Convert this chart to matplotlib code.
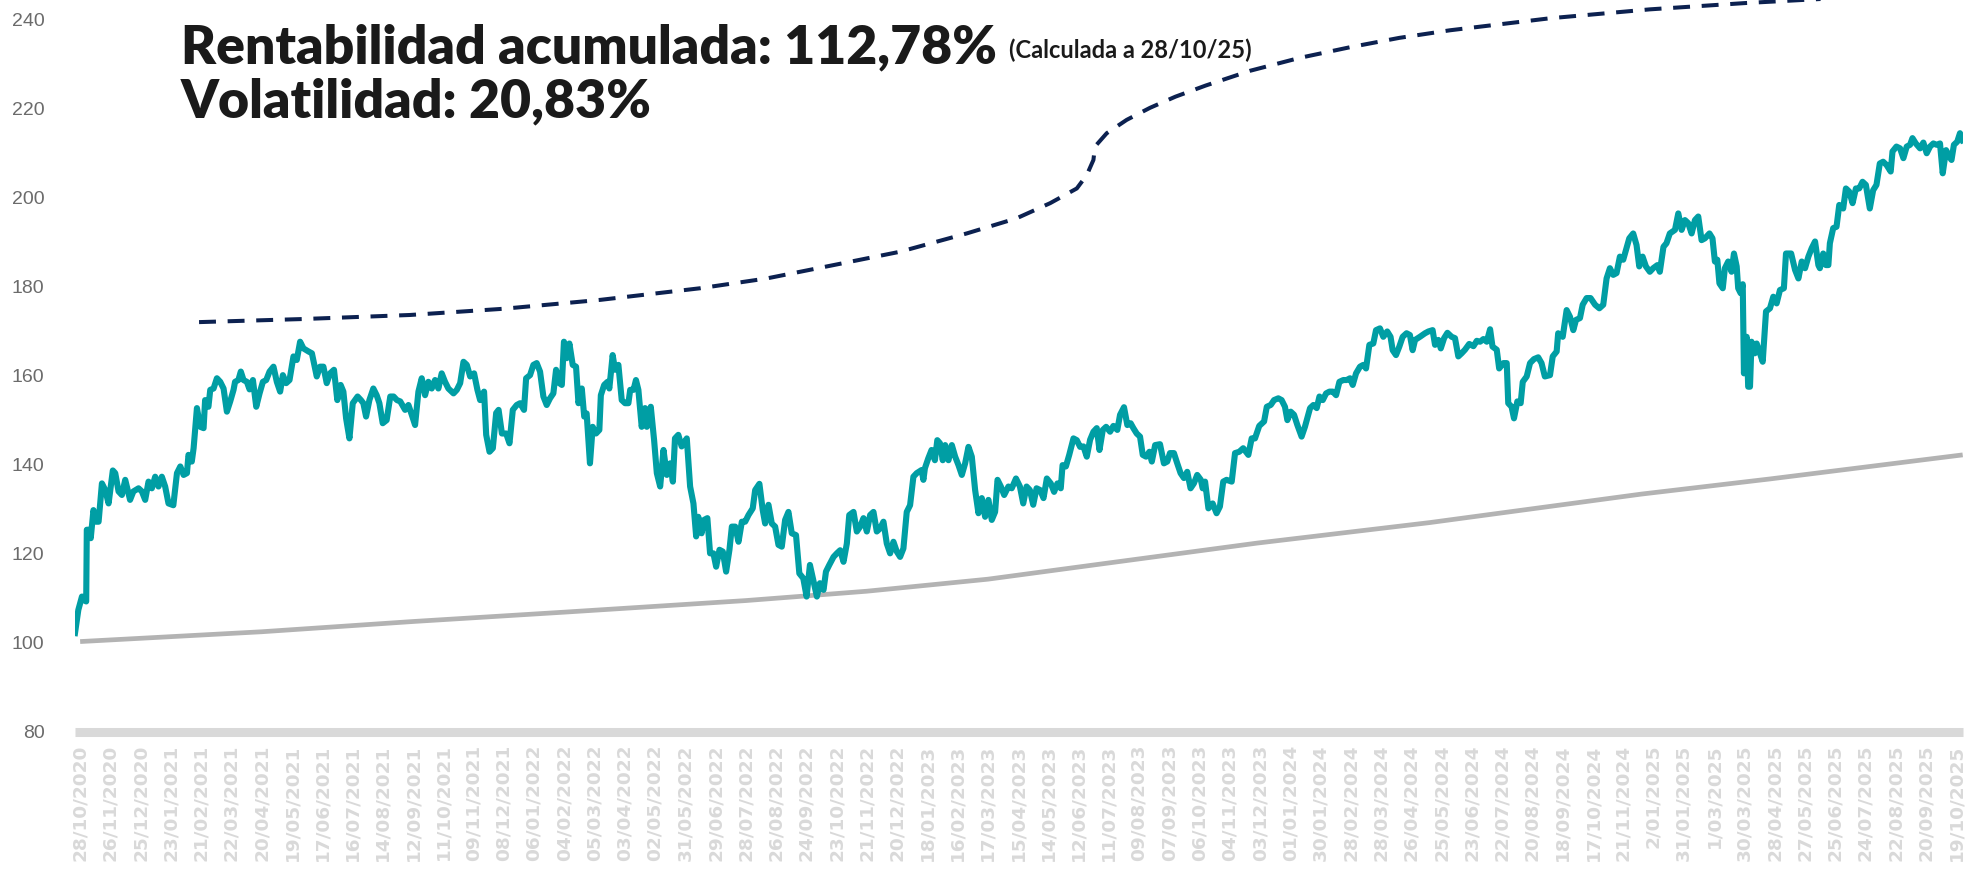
import matplotlib
matplotlib.use("Agg")
import matplotlib.pyplot as plt
from matplotlib import font_manager

installed = {f.name for f in font_manager.fontManager.ttflist}


def pick(*names):
    for n in names:
        if n in installed:
            return n
    return "DejaVu Sans"


# x axis categories (one label every 29 days)
tick_labels = [
    "28/10/2020", "26/11/2020", "25/12/2020", "23/01/2021", "21/02/2021", "22/03/2021",
    "20/04/2021", "19/05/2021", "17/06/2021", "16/07/2021", "14/08/2021", "12/09/2021",
    "11/10/2021", "09/11/2021", "08/12/2021", "06/01/2022", "04/02/2022", "05/03/2022",
    "03/04/2022", "02/05/2022", "31/05/2022", "29/06/2022", "28/07/2022", "26/08/2022",
    "24/09/2022", "23/10/2022", "21/11/2022", "20/12/2022", "18/01/2023", "16/02/2023",
    "17/03/2023", "15/04/2023", "14/05/2023", "12/06/2023", "11/07/2023", "09/08/2023",
    "07/09/2023", "06/10/2023", "04/11/2023", "03/12/2023", "01/01/2024", "30/01/2024",
    "28/02/2024", "28/03/2024", "26/04/2024", "25/05/2024", "23/06/2024", "22/07/2024",
    "20/08/2024", "18/09/2024", "17/10/2024", "21/11/2024", "2/01/2025", "31/01/2025",
    "1/03/2025", "30/03/2025", "28/04/2025", "27/05/2025", "25/06/2025", "24/07/2025",
    "22/08/2025", "20/09/2025", "19/10/2025",
]

# fund value (x = position measured in label steps)
teal_x = [
    -0.17, -0.06, 0.06, 0.13, 0.20, 0.22, 0.31, 0.35, 0.44, 0.53,
    0.61, 0.72, 0.83, 0.94, 1.08, 1.16, 1.27, 1.38, 1.49, 1.65,
    1.76, 1.93, 2.04, 2.15, 2.26, 2.37, 2.48, 2.59, 2.70, 2.81,
    2.92, 3.08, 3.20, 3.31, 3.42, 3.53, 3.58, 3.69, 3.75, 3.86,
    3.97, 4.08, 4.13, 4.24, 4.30, 4.41, 4.52, 4.63, 4.74, 4.85,
    4.96, 5.07, 5.12, 5.23, 5.31, 5.40, 5.51, 5.60, 5.71, 5.82,
    5.93, 6.04, 6.15, 6.26, 6.39, 6.50, 6.61, 6.70, 6.81, 6.92,
    7.05, 7.16, 7.27, 7.38, 7.55, 7.66, 7.82, 7.93, 8.04, 8.15,
    8.26, 8.39, 8.50, 8.61, 8.70, 8.79, 8.90, 9.01, 9.17, 9.28,
    9.36, 9.45, 9.56, 9.69, 9.80, 9.89, 10.00, 10.13, 10.25, 10.36,
    10.47, 10.58,
    10.74, 10.85, 10.96, 11.07, 11.18, 11.29, 11.40, 11.51, 11.62, 11.73,
    11.84, 11.95, 12.06, 12.17, 12.34, 12.45, 12.56, 12.67, 12.78, 12.89,
    13.02, 13.13, 13.22, 13.35, 13.42, 13.53, 13.64, 13.75, 13.83, 13.94,
    14.08, 14.19, 14.30, 14.43, 14.54, 14.67, 14.74, 14.87, 14.98, 15.09,
    15.20, 15.31, 15.42, 15.53, 15.64, 15.73, 15.84, 15.92, 15.99, 16.08,
    16.17, 16.28, 16.39, 16.47, 16.58, 16.66, 16.74, 16.85, 16.94, 17.05,
    17.16, 17.21, 17.32, 17.43, 17.49, 17.60, 17.68, 17.79, 17.90, 18.01,
    18.12, 18.18, 18.29, 18.37, 18.45, 18.56, 18.67, 18.73, 18.86, 18.97,
    19.06, 19.17, 19.28, 19.39, 19.50, 19.59, 19.66, 19.77, 19.88, 20.05,
    20.16, 20.27, 20.36, 20.43, 20.54, 20.62, 20.73, 20.82, 20.93, 21.02,
    21.13, 21.24, 21.35, 21.46, 21.54, 21.65, 21.76, 21.87, 21.98,
    22.09, 22.23, 22.31, 22.45, 22.56, 22.64, 22.75, 22.86, 22.97, 23.08,
    23.19, 23.30, 23.41, 23.52, 23.66, 23.77, 23.90, 24.01, 24.12, 24.23,
    24.35, 24.45, 24.57, 24.65, 24.76, 24.90, 25.01, 25.12, 25.23, 25.34,
    25.42, 25.56, 25.67, 25.78, 25.89, 26.00, 26.11, 26.22, 26.33, 26.44,
    26.55, 26.66, 26.77, 26.88, 26.99, 27.10, 27.21, 27.32, 27.43, 27.54,
    27.65, 27.81, 27.87, 27.92, 28.03, 28.14, 28.25, 28.33, 28.42, 28.51,
    28.59, 28.70, 28.81, 28.92, 29.03, 29.14, 29.25, 29.36, 29.47, 29.58,
    29.69, 29.80, 29.91, 30.02, 30.13, 30.24, 30.32, 30.43, 30.54, 30.68,
    30.79, 30.93, 31.06, 31.17, 31.28, 31.39, 31.50, 31.61, 31.73, 31.84,
    31.95, 32.08, 32.19, 32.30, 32.41, 32.47, 32.58, 32.69, 32.83, 32.94,
    33.05,
    33.16, 33.27, 33.38, 33.49, 33.60, 33.69, 33.80, 33.91, 34.04, 34.15,
    34.28, 34.37, 34.50, 34.61, 34.72, 34.81, 34.92, 35.03, 35.12, 35.23,
    35.34, 35.42, 35.53, 35.69, 35.82, 35.93, 36.02, 36.15, 36.26, 36.37,
    36.48, 36.59, 36.70, 36.81, 36.92, 37.04, 37.10, 37.18, 37.29, 37.43,
    37.56, 37.67, 37.78, 37.89, 38.06, 38.17, 38.31, 38.44, 38.61, 38.72,
    38.83, 38.97, 39.13, 39.22, 39.35, 39.46, 39.60, 39.71, 39.82, 39.90,
    40.01, 40.12, 40.23, 40.37, 40.48, 40.65, 40.76, 40.87, 40.96, 41.07,
    41.18, 41.29, 41.40, 41.51, 41.62, 41.75, 41.86, 41.97, 42.06, 42.17,
    42.30, 42.41, 42.50, 42.61, 42.74, 42.83, 42.96, 43.07, 43.20, 43.31,
    43.38, 43.49, 43.60, 43.71, 43.84, 43.95, 44.04, 44.12, 44.28,
    44.45, 44.56, 44.70, 44.78, 44.89, 44.97, 45.08, 45.19, 45.33, 45.44,
    45.55, 45.66, 45.77, 45.91, 46.05, 46.16, 46.27, 46.38, 46.49, 46.60,
    46.68, 46.82, 46.90, 47.04, 47.15, 47.20, 47.31, 47.39, 47.50, 47.61,
    47.68, 47.81, 47.92, 48.05, 48.19, 48.30, 48.41, 48.58, 48.67, 48.80,
    48.85, 49.00, 49.13, 49.24, 49.35, 49.44, 49.57, 49.66, 49.79, 49.92,
    50.07, 50.21, 50.34, 50.45, 50.56, 50.67, 50.78, 50.89, 51.00, 51.09,
    51.20, 51.33, 51.44, 51.53, 51.64, 51.75, 51.88, 51.99, 52.13, 52.21,
    52.33, 52.43, 52.54, 52.71, 52.82, 52.93, 53.04, 53.15, 53.26, 53.37,
    53.48, 53.59, 53.70, 53.85, 53.95, 54.03, 54.11, 54.18, 54.29, 54.36,
    54.47, 54.58, 54.66, 54.75, 54.80, 54.88,
    54.95, 54.99, 55.08, 55.13, 55.19, 55.24, 55.35, 55.41, 55.52, 55.61,
    55.72, 55.85, 55.96, 56.07, 56.18, 56.31, 56.38, 56.55, 56.68, 56.79,
    56.90, 57.01, 57.12, 57.23, 57.34, 57.45, 57.50, 57.61, 57.70, 57.78,
    57.83, 57.94, 58.05, 58.14, 58.27, 58.36, 58.47, 58.58, 58.69, 58.80,
    58.91, 59.02, 59.15, 59.26, 59.37, 59.48, 59.59, 59.70, 59.84, 59.90,
    60.03, 60.15, 60.26, 60.37, 60.48, 60.56, 60.67, 60.81, 60.92, 61.03,
    61.14, 61.25, 61.36, 61.47, 61.56, 61.67, 61.78, 61.85, 61.93, 62.04,
    62.13, 62.22,
]
teal_y = [
    102.2, 107.4, 110.4, 109.6, 109.3, 125.4, 125.4, 123.5, 129.8, 127.2,
    127.2, 135.8, 134.3, 131.3, 138.7, 138.1, 134.0, 133.2, 136.6, 132.1,
    134.0, 134.7, 134.0, 132.1, 136.2, 134.7, 137.3, 135.1, 137.3, 135.1,
    131.3, 130.9, 138.1, 139.6, 137.7, 138.1, 142.2, 140.7, 143.7, 152.7,
    148.5, 148.2, 154.5, 153.0, 156.8, 157.1, 159.4, 158.6, 157.1, 151.9,
    154.2, 156.8, 158.6, 159.0, 160.9, 159.0, 158.6, 156.9, 159.0, 153.0,
    156.0, 158.6, 159.0, 160.9, 162.0, 158.6, 156.4, 160.1, 158.3, 159.0,
    164.3, 163.5, 167.6, 166.1, 165.4, 165.0, 159.8, 162.0, 162.0, 158.3,
    160.5, 161.3, 154.5, 157.9, 156.4, 150.4, 145.9, 153.8, 155.3, 154.5,
    153.8, 150.8, 154.5, 157.1, 155.6, 153.8, 149.3, 150.0, 155.3, 155.3,
    154.5, 154.2,
    152.3, 153.4, 151.2, 148.9, 156.4, 159.4, 155.6, 158.6, 157.1, 159.0,
    157.1, 160.5, 158.6, 157.1, 156.0, 156.8, 158.3, 163.1, 162.4, 159.8,
    160.5, 156.8, 154.5, 156.4, 146.7, 142.9, 143.7, 151.6, 152.3, 147.0,
    147.0, 144.8, 152.3, 153.4, 153.8, 152.3, 159.4, 160.1, 162.4, 162.8,
    160.9, 155.3, 153.4, 154.9, 156.0, 161.3, 158.3, 157.9, 167.6, 163.9,
    167.2, 162.4, 162.0, 153.8, 157.1, 150.8, 151.5, 140.3, 148.5, 147.0,
    147.8, 155.6, 157.9, 158.6, 157.1, 164.6, 161.3, 162.4, 154.5, 153.8,
    153.8, 156.8, 156.8, 159.0, 156.8, 148.5, 152.7, 148.5, 153.0, 145.5,
    138.1, 135.1, 143.3, 137.7, 140.3, 136.2, 145.9, 146.7, 144.1, 145.9,
    135.1, 131.3, 123.9, 128.3, 124.6, 127.6, 128.0, 120.1, 120.1, 117.1,
    120.9, 120.5, 116.0, 120.9, 126.1, 126.1, 122.7, 127.2, 127.2,
    128.7, 130.2, 134.3, 135.7, 129.8, 126.8, 131.0, 126.8, 126.1, 122.0,
    121.6, 127.6, 129.4, 124.6, 124.2, 115.6, 114.5, 110.4, 117.5, 114.1,
    110.4, 113.4, 111.9, 116.0, 117.5, 119.3, 120.1, 120.8, 118.2, 122.3,
    128.7, 129.4, 125.0, 126.1, 128.0, 125.0, 128.7, 129.4, 125.0, 125.7,
    127.2, 122.3, 120.1, 122.7, 120.5, 119.3, 121.2, 129.4, 130.9, 137.3,
    138.1, 138.8, 136.6, 139.2, 141.4, 143.3, 141.0, 145.5, 144.8, 141.0,
    144.4, 141.0, 144.4, 141.8, 139.9, 137.7, 140.3, 144.0, 141.8, 134.3,
    129.1, 132.5, 128.3, 132.1, 127.6, 129.4, 136.6, 135.1, 133.2, 135.1,
    134.7, 136.9, 135.1, 131.3, 135.1, 134.3, 131.0, 134.7, 134.3, 132.5,
    136.9, 135.8, 133.9, 135.8, 134.7, 139.9, 139.6, 142.2, 145.9, 145.5,
    144.0,
    144.1, 141.8, 145.6, 147.4, 148.2, 143.3, 147.8, 148.5, 147.4, 148.7,
    147.8, 151.2, 152.9, 148.9, 149.3, 148.2, 147.0, 146.3, 142.2, 141.8,
    142.9, 140.7, 144.4, 144.6, 140.3, 140.7, 142.6, 142.6, 140.3, 138.1,
    137.0, 138.4, 134.7, 135.8, 137.7, 136.6, 134.7, 136.2, 130.2, 131.3,
    129.1, 130.6, 136.2, 136.6, 136.2, 142.6, 142.9, 143.7, 142.2, 145.9,
    145.9, 148.7, 149.7, 153.0, 153.4, 154.5, 154.9, 154.5, 153.0, 150.0,
    151.9, 151.2, 148.9, 146.3, 148.5, 152.7, 153.4, 152.7, 155.3, 154.5,
    156.0, 156.4, 156.4, 155.6, 158.6, 159.0, 159.0, 159.4, 157.9, 160.5,
    162.0, 162.4, 161.6, 166.9, 167.2, 170.2, 170.6, 168.7, 169.9, 168.7,
    165.7, 164.6, 166.5, 168.7, 169.5, 169.1, 165.7, 168.0, 168.7,
    169.5, 169.9, 170.2, 166.9, 168.0, 166.1, 168.4, 169.6, 168.7, 168.4,
    164.3, 165.0, 165.8, 167.1, 166.6, 167.8, 167.6, 168.2, 167.6, 170.4,
    166.5, 165.8, 161.6, 162.8, 162.8, 153.8, 153.0, 150.4, 154.2, 153.8,
    158.6, 159.8, 162.8, 163.7, 164.1, 162.8, 159.8, 160.1, 164.3, 165.4,
    169.5, 168.7, 174.7, 173.2, 170.2, 172.5, 172.9, 175.9, 177.4, 177.4,
    175.9, 175.1, 175.9, 181.8, 184.1, 182.6, 183.0, 186.7, 186.0, 188.2,
    190.8, 191.9, 189.3, 184.5, 186.7, 184.5, 183.3, 184.1, 184.8, 183.3,
    188.9, 189.7, 191.9, 192.7, 196.4, 192.7, 194.9, 194.2, 191.9, 194.9,
    195.7, 190.4, 190.8, 191.9, 190.8, 185.6, 186.0, 180.7, 179.6, 184.1,
    185.6, 183.3, 187.4, 184.5, 179.6, 178.5,
    180.5, 160.5, 168.7, 157.5, 157.5, 167.6, 165.0, 167.2, 165.0, 163.1,
    174.4, 175.1, 177.7, 176.2, 179.2, 179.6, 187.4, 187.4, 183.7, 181.8,
    185.6, 184.1, 186.7, 188.6, 190.1, 184.8, 184.1, 187.4, 184.8, 184.8,
    189.7, 193.1, 193.4, 198.3, 197.5, 202.0, 201.3, 198.7, 202.0, 202.0,
    203.5, 202.8, 197.5, 201.6, 202.8, 207.6, 208.0, 207.3, 205.8, 210.3,
    211.4, 211.0, 208.8, 211.4, 211.8, 213.3, 212.1, 211.0, 212.3, 209.9,
    211.4, 212.1, 211.8, 212.1, 205.4, 210.6, 209.1, 208.4, 211.8, 212.5,
    214.4, 212.8,
]

# benchmark (grey)
bench_x = [0, 6, 11, 16, 22, 26, 30, 33.4, 38.9, 44.6, 51.6, 55.85, 62.22]
bench_y = [100.3, 102.5, 104.8, 106.9, 109.5, 111.6, 114.3, 117.4, 122.4, 127.0, 133.4, 136.8, 142.2]

# upper band (dashed)
band_x = [3.93, 7.4, 10.9, 14.0, 17.2, 20.49, 22.69, 24.9, 27.1, 29.3, 30.95, 32.06,
          32.94, 33.27, 33.49, 33.54, 33.93, 34.59, 35.36, 36.2, 37.2, 38.66, 40.3,
          41.97, 43.6, 45.27, 48.58, 51.88, 55.0, 58.0, 62.22]
band_y = [172.0, 172.7, 173.6, 175.0, 177.0, 179.6, 181.8, 184.8, 187.8, 191.9, 195.3, 198.7,
          202.0, 205.0, 208.4, 211.4, 214.4, 217.4, 220.1, 222.6, 225.1, 228.4, 231.3,
          233.7, 235.8, 237.5, 240.2, 242.2, 243.6, 244.7, 246.0]

y_ticks = [80, 100, 120, 140, 160, 180, 200, 220, 240]

title_1 = "Rentabilidad acumulada: 112,78%"
title_2 = "Volatilidad: 20,83%"
subtitle = "(Calculada a 28/10/25)"

title_font = pick("Lato", "Roboto", "Open Sans")
ytick_font = pick("Liberation Sans Narrow", "Liberation Sans")

fig = plt.figure(figsize=(19.88, 8.69), dpi=100)
ax = fig.add_axes([75 / 1988, 137 / 869, 1888 / 1988, 732 / 869])

ax.plot(bench_x, bench_y, color="#b3b3b3", lw=3.4, solid_capstyle="butt", zorder=2)
ax.plot(band_x, band_y, color="#0c2150", lw=2.9, dashes=(4.2, 2.9), zorder=2)
ax.plot(teal_x, teal_y, color="#009ea4", lw=4.4, solid_joinstyle="round", zorder=3)

ax.set_xlim(-0.17, 62.23)
ax.set_ylim(80, 244.3)
ax.set_yticks(y_ticks)
ax.set_yticklabels([str(v) for v in y_ticks], family=ytick_font, fontsize=14, color="#6b6b6b")
ax.set_xticks(range(len(tick_labels)))
ax.set_xticklabels(tick_labels, rotation=90, fontsize=13.3, fontweight="bold",
                   color="#d9d9d9", family="DejaVu Sans", va="top")
ax.tick_params(axis="y", length=0, pad=22)
ax.tick_params(axis="x", length=0, pad=9)
for s in ["top", "right", "left"]:
    ax.spines[s].set_visible(False)
ax.spines["bottom"].set_color("#d9d9d9")
ax.spines["bottom"].set_linewidth(6.5)
ax.spines["bottom"].set_capstyle("butt")

t1 = fig.text(181 / 1988, 1 - 63 / 869, title_1, fontsize=38.5, fontweight="heavy",
              family=title_font, color="#1a1a1a", va="baseline")
fig.text(181 / 1988, 1 - 117 / 869, title_2, fontsize=38.5, fontweight="heavy",
         family=title_font, color="#1a1a1a", va="baseline")

fig.canvas.draw()
bb = t1.get_window_extent()
fig.text((bb.x1 + 12) / fig.bbox.width, 1 - 58 / 869, subtitle, fontsize=17,
         fontweight="bold", family=title_font, color="#1a1a1a", va="baseline")

fig.savefig("out.png", dpi=100)
